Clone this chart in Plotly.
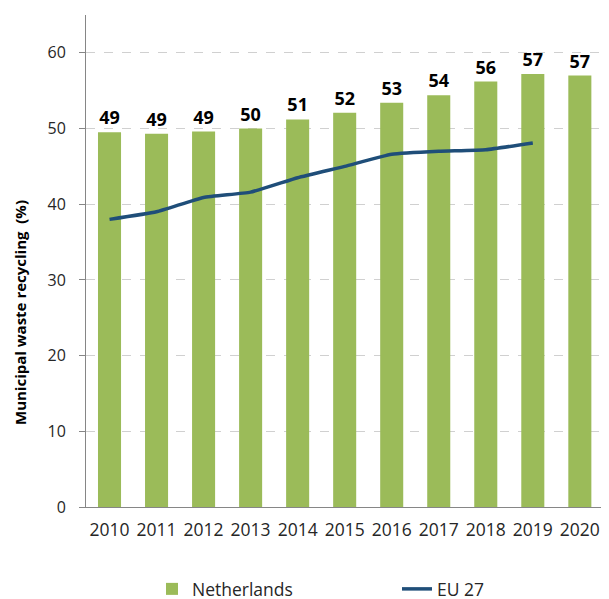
import plotly.graph_objects as go

years = ["2010", "2011", "2012", "2013", "2014", "2015", "2016", "2017", "2018", "2019", "2020"]
netherlands = [49.5, 49.3, 49.6, 50.0, 51.2, 52.1, 53.4, 54.4, 56.2, 57.2, 57.0]
netherlands_labels = ["49", "49", "49", "50", "51", "52", "53", "54", "56", "57", "57"]
eu27_years = ["2010", "2011", "2012", "2013", "2014", "2015", "2016", "2017", "2018", "2019"]
eu27 = [38.0, 39.0, 40.9, 41.6, 43.5, 45.0, 46.6, 47.0, 47.2, 48.1]
y_ticks = [0, 10, 20, 30, 40, 50, 60]

FONT = "Open Sans, Calibri, sans-serif"
GREEN = "#9BBB59"
BLUE = "#1F4E79"
AXIS = "#868686"

xpos = list(range(len(years)))
eu_pos = [years.index(y) for y in eu27_years]

# the page body adds an 8px offset; figure coordinates are page minus 8
W, H = 601, 591
L, T, B = 78, 7, 92
PW, PH = W - L, H - T - B

fig = go.Figure()
fig.add_trace(go.Bar(
    x=xpos, y=netherlands, name="Netherlands",
    marker=dict(color=GREEN, line=dict(width=0)),
    width=0.49,
    text=netherlands_labels, textposition="outside",
    textfont=dict(family=FONT, size=18, color="#000000", weight="bold"),
    cliponaxis=False,
    legendwidth=200,
))
fig.add_trace(go.Scatter(
    x=eu_pos, y=eu27, name="EU 27", mode="lines",
    line=dict(color=BLUE, width=3.5, shape="spline", smoothing=0.4),
    legendwidth=60,
))

x_range = [-0.5, 10.62]
fig.update_layout(
    width=W, height=H,
    margin=dict(l=L, r=0, t=T, b=B, autoexpand=False),
    paper_bgcolor="white", plot_bgcolor="white",
    font=dict(family=FONT, size=16, color="#262626"),
    xaxis=dict(
        range=x_range, tickmode="array", tickvals=xpos, ticktext=years,
        ticks="", showgrid=False, zeroline=False,
        showline=True, linecolor=AXIS, linewidth=1,
        tickfont=dict(family=FONT, size=17.5, color="#262626"),
        ticklabelstandoff=7, ticklabeloverflow="allow", automargin=False,
    ),
    xaxis2=dict(
        range=x_range, overlaying="x", side="bottom", anchor="y",
        tickmode="array", tickvals=[-0.5, 2.5, 5.5, 8.5], ticktext=["", "", "", ""],
        ticks="outside", ticklen=6, tickcolor=AXIS, tickwidth=1,
        showgrid=False, zeroline=False, showline=False, showticklabels=False,
    ),
    yaxis=dict(
        range=[0, 65], tickmode="array", tickvals=y_ticks,
        ticks="outside", ticklen=6, tickcolor=AXIS,
        showline=True, linecolor=AXIS, linewidth=1,
        showgrid=True, gridcolor="#D0D0D0", griddash="dash", gridwidth=1,
        zeroline=False,
        tickfont=dict(family=FONT, size=16, color="#262626"),
        ticklabelstandoff=10, automargin=False,
    ),
    showlegend=True,
    legend=dict(
        orientation="h", x=(144 - L) / PW, xanchor="left",
        y=-100 / PH, yanchor="bottom",
        font=dict(family=FONT, size=17.5, color="#262626"),
        bgcolor="rgba(0,0,0,0)",
    ),
    annotations=[dict(
        text="<b>Municipal waste recycling  (%)</b>",
        xref="paper", yref="paper", x=(12 - L) / PW, y=(PH + T - 305) / PH,
        xanchor="center", yanchor="middle", textangle=-90, showarrow=False,
        font=dict(family=FONT, size=15, color="#000000"),
    )],
)

fig.write_html("out.html")
